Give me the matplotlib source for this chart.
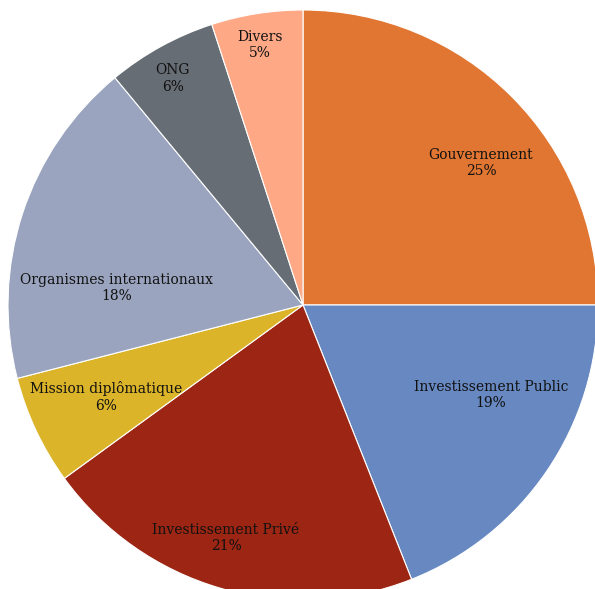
import matplotlib
matplotlib.use("Agg")
import matplotlib.pyplot as plt

# Répartition par source
categories = ["Gouvernement", "Investissement Public", "Investissement Privé",
              "Mission diplômatique", "Organismes internationaux", "ONG", "Divers"]
shares = [25, 19, 21, 6, 18, 6, 5]

colors = ["#E17632", "#6788C1", "#9C2513", "#DBB42A", "#9AA4BE", "#676D75", "#FEA886"]

# label centres in axis units (pie radius = 1)
label_xy = [(0.603, 0.481), (0.637, -0.305), (-0.261, -0.790), (-0.668, -0.312),
            (-0.631, 0.058), (-0.441, 0.769), (-0.146, 0.881)]

W, H = 595, 589
fig = plt.figure(figsize=(W / 100, H / 100), dpi=100)
ax = fig.add_axes([0, 0, 1, 1])

R_PX = 295
CX, CY = 303, 305
ax.pie(shares, colors=colors, startangle=90, counterclock=False, radius=1,
       wedgeprops=dict(edgecolor="white", linewidth=0.8))

total = sum(shares)
for name, v, (x, y) in zip(categories, shares, label_xy):
    ax.text(x, y, f"{name}\n{round(100 * v / total)}%", ha="center", va="center",
            fontsize=10, family="DejaVu Serif", color="#111111", linespacing=1.25)

ax.set_xlim(-CX / R_PX, (W - CX) / R_PX)
ax.set_ylim(-(H - CY) / R_PX, CY / R_PX)
ax.set_aspect("auto")
ax.axis("off")

fig.savefig("out.png", dpi=100)
